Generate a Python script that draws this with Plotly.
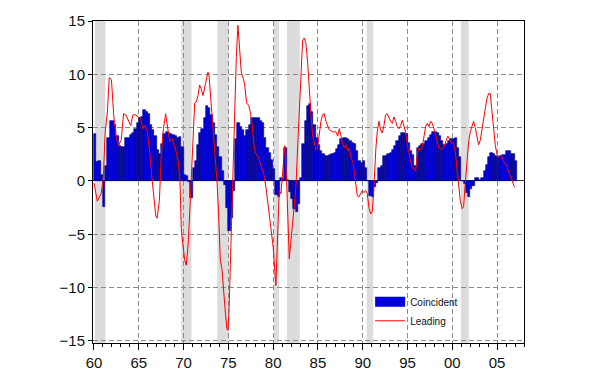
import plotly.graph_objects as go

# ---------------- data ----------------
start_year = 1960
# Coincident index growth (%), quarterly from 1960Q1 to 2007Q1
coincident = [
    4.4, 1.8, 1.9, 0.6,      # 1960
    -2.4, 1.4, 4.0, 5.6,     # 1961
    5.6, 5.2, 4.2, 3.3,      # 1962
    3.2, 3.2, 4.0, 4.0,      # 1963
    4.3, 4.5, 4.9, 5.4,      # 1964
    5.9, 6.0, 6.7, 6.5,      # 1965
    6.3, 5.2, 4.8, 4.2,      # 1966
    2.9, 2.5, 3.5, 4.4,      # 1967
    4.6, 4.5, 4.4, 4.3,      # 1968
    4.2, 4.0, 4.1, 3.2,      # 1969
    0.6, 0.5, -0.1, -1.6,    # 1970
    1.2, 1.85, 3.4, 4.5,     # 1971
    4.9, 5.9, 7.0, 6.8,      # 1972
    6.2, 5.4, 4.3, 3.2,      # 1973
    2.2, 0.9, -0.4, -2.5,    # 1974
    -4.7, -3.5, -0.9, 3.9,   # 1975
    5.4, 5.1, 4.8, 4.2,      # 1976
    4.8, 5.2, 5.9, 5.9,      # 1977
    5.9, 5.9, 5.6, 5.4,      # 1978
    4.0, 3.1, 2.6, 2.0,      # 1979
    1.1, -1.3, -1.5, 0.3,    # 1980
    0.2, 3.1, 0.1, -1.0,     # 1981
    -1.7, -2.6, -2.9, -2.2,  # 1982
    0.3, 3.5, 5.6, 7.0,      # 1983
    7.2, 6.5, 5.2, 4.0,      # 1984
    3.4, 2.8, 2.5, 2.3,      # 1985
    2.3, 2.4, 2.5, 2.6,      # 1986
    3.0, 3.4, 3.9, 4.0,      # 1987
    4.0, 3.9, 3.7, 3.6,      # 1988
    3.5, 2.8, 1.85, 1.7,     # 1989
    1.85, 1.2, 0.0, -1.4,    # 1990
    -1.5, -0.6, -0.2, 1.2,   # 1991
    1.4, 2.3, 2.3, 2.5,      # 1992
    2.6, 2.9, 3.3, 3.7,      # 1993
    4.2, 4.5, 4.5, 4.4,      # 1994
    3.6, 2.8, 2.4, 1.4,      # 1995
    3.1, 3.3, 3.5, 3.5,      # 1996
    3.7, 4.0, 4.3, 4.6,      # 1997
    4.6, 4.5, 4.2, 3.7,      # 1998
    3.4, 3.5, 3.7, 3.9,      # 1999
    3.9, 4.0, 3.1, 2.2,      # 2000
    0.0, -0.3, -1.1, -1.5,   # 2001
    -0.8, -0.5, 0.25, 0.25,  # 2002
    0.1, 0.3, 0.9, 1.5,      # 2003
    2.2, 2.6, 2.5, 2.3,      # 2004
    2.2, 2.3, 2.4, 2.4,      # 2005
    2.8, 2.8, 2.5, 2.5,      # 2006
    1.85,                    # 2007
]

# Leading index growth (%), read at the dates below (decimal years)
lead_t = [
    1960.0, 1960.37, 1960.6, 1960.8, 1961.04, 1961.25, 1961.5, 1961.7, 1961.95,
    1962.2, 1962.5, 1962.75, 1963.05, 1963.3, 1963.55, 1963.85, 1964.1, 1964.35,
    1964.65, 1964.95, 1965.2, 1965.45, 1965.7, 1965.95, 1966.25, 1966.5, 1966.7,
    1966.9, 1967.05, 1967.3, 1967.5, 1967.75, 1968.0, 1968.2, 1968.45, 1968.7,
    1968.95, 1969.15, 1969.4, 1969.6, 1969.75, 1969.93, 1970.12, 1970.3, 1970.49,
    1970.68, 1970.86, 1971.05, 1971.24, 1971.42, 1971.61, 1971.79, 1971.98,
    1972.17, 1972.35, 1972.54, 1972.72, 1972.84, 1973.02, 1973.17, 1973.36,
    1973.54, 1973.73, 1973.91, 1974.1, 1974.29, 1974.47, 1974.66, 1974.84,
    1974.96, 1975.07, 1975.22, 1975.33, 1975.51, 1975.7, 1975.89, 1976.07,
    1976.26, 1976.44, 1976.67, 1976.82, 1977.04, 1977.26, 1977.45, 1977.67,
    1977.86, 1978.04, 1978.3, 1978.49, 1978.75, 1978.97, 1979.2, 1979.5, 1979.8,
    1980.0, 1980.3, 1980.5, 1980.68, 1980.87, 1981.06, 1981.3, 1981.5, 1981.65,
    1981.8, 1981.99, 1982.17, 1982.36, 1982.54, 1982.73, 1982.92, 1983.1,
    1983.29, 1983.47, 1983.66, 1983.85, 1984.03, 1984.22, 1984.4, 1984.59,
    1984.78, 1984.96, 1985.15, 1985.33, 1985.52, 1985.71, 1985.89, 1986.08,
    1986.26, 1986.64, 1987.01, 1987.2, 1987.38, 1987.57, 1987.75, 1987.94,
    1988.13, 1988.31, 1988.5, 1988.68, 1988.87, 1989.05, 1989.24, 1989.39,
    1989.58, 1989.76, 1989.95, 1990.13, 1990.32, 1990.51, 1990.69, 1990.88,
    1991.06, 1991.18, 1991.32, 1991.47, 1991.62, 1991.81, 1991.99, 1992.18,
    1992.37, 1992.55, 1992.74, 1992.92, 1993.11, 1993.3, 1993.48, 1993.67,
    1993.85, 1994.04, 1994.23, 1994.41, 1994.6, 1994.78, 1994.97, 1995.16,
    1995.34, 1995.53, 1995.71, 1995.9, 1996.09, 1996.27, 1996.46, 1996.65,
    1996.83, 1997.02, 1997.2, 1997.39, 1997.57, 1997.76, 1997.95, 1998.13,
    1998.32, 1998.5, 1998.69, 1998.88, 1999.06, 1999.3, 1999.5, 1999.7, 1999.9,
    2000.1, 2000.33, 2000.51, 2000.7, 2000.89, 2001.1, 2001.26, 2001.44,
    2001.63, 2001.82, 2002.0, 2002.19, 2002.37, 2002.56, 2002.75, 2002.93,
    2003.12, 2003.3, 2003.49, 2003.68, 2003.86, 2004.05, 2004.23, 2004.42,
    2004.61, 2004.79, 2004.98, 2005.16, 2005.35, 2005.54, 2005.72, 2005.91,
    2006.09, 2006.28, 2006.47, 2006.65, 2006.95,
]
lead_v = [
    -0.2, -1.9, -1.5, -1.2, 0.2, 4.6, 6.5, 9.7, 9.5,
    6.2, 4.0, 3.3, 3.9, 6.3, 6.2, 5.6, 5.2, 6.2,
    6.2, 6.0, 5.9, 4.9, 5.2, 4.6, 2.5, 0.0, -1.85,
    -3.3, -3.5, -1.85, 2.2, 4.9, 6.3, 4.9, 3.7, 4.0,
    3.4, 2.8, 1.85, 0.0, -4.6, -6.2, -7.4, -7.9, -6.2,
    -3.1, 0.0, 3.7, 7.3, 7.4, 8.0, 9.0, 8.6,
    8.0, 8.8, 9.6, 10.2, 9.9, 8.0, 6.2, 4.3,
    2.2, 0.0, -3.1, -7.4, -8.3, -10.8, -12.3, -13.9,
    -14.0, -12.3, -8.0, -3.7, 0.0, 6.8, 11.7, 14.6,
    12.0, 10.2, 9.6, 9.0, 7.3, 7.1, 6.5, 5.2,
    3.3, 2.6, 2.3, 1.85, 1.2, 0.6, -0.6, -2.6, -4.8,
    -6.2, -9.8, -4.3, -0.9, -1.2, 0.6, 3.3, 0.0, -4.6,
    -7.3, -5.6, -3.7, -2.2, -0.6, 3.1, 7.1, 10.8,
    13.2, 13.4, 12.9, 11.1, 8.3, 6.2, 4.3, 3.4,
    2.9, 3.1, 4.6, 5.6, 6.2, 6.3, 5.6, 5.2,
    4.8, 4.6, 4.6, 4.2, 4.9, 4.2, 3.5, 3.1,
    3.4, 2.8, 3.1, 2.2, 1.85, 0.9, -0.4, -1.4,
    -1.5, -1.2, -0.9, -1.1, -0.9, -1.2, -2.5, -3.1,
    -2.9, -1.5, 0.9, 3.1, 4.6, 5.6, 4.8, 4.5,
    5.2, 6.2, 6.3, 5.9, 5.6, 5.4, 6.0, 5.6,
    5.1, 4.9, 5.2, 5.7, 5.2, 4.6, 3.4, 2.5,
    1.85, 1.2, 1.2, 0.9, 2.5, 3.1, 2.9, 3.2,
    4.0, 5.1, 5.4, 5.1, 5.6, 5.4, 4.9, 4.3,
    3.6, 3.1, 3.0, 3.0, 3.2, 3.7, 4.2, 3.9, 3.5,
    3.6, 2.8, 1.2, -0.3, -1.85, -2.6, -2.4, -0.3,
    1.5, 3.7, 4.6, 5.2, 5.6, 5.0, 4.0, 3.4,
    3.8, 4.9, 5.9, 6.8, 7.7, 8.2, 8.2, 6.5,
    4.6, 3.4, 2.5, 2.2, 2.4, 2.3, 1.85, 1.6,
    1.4, 0.9, 0.5, 0.0, -0.6,
]

# Recession periods (decimal years)
rec_start = [1960.1, 1969.75, 1973.76, 1980.08, 1981.54, 1990.45, 2000.95]
rec_end = [1961.28, 1970.88, 1975.05, 1980.65, 1982.98, 1991.17, 2001.83]

tick_years = [1960, 1965, 1970, 1975, 1980, 1985, 1990, 1995, 2000, 2005]
tick_labels = ["60", "65", "70", "75", "80", "85", "90", "95", "00", "05"]
y_ticks = [-15, -10, -5, 0, 5, 10, 15]

# ---------------- figure ----------------
bar_x = [start_year + 0.25 * i + 0.125 for i in range(len(coincident))]
bar_fill = "#0000DD"
bar_edge = "#00007A"

fig = go.Figure()
fig.add_trace(go.Bar(
    x=bar_x, y=coincident, width=0.25, name="Coincident", showlegend=False,
    marker=dict(color=bar_fill, line=dict(color=bar_edge, width=0.6)),
))
# legend proxy giving a wide rectangle key like the original
fig.add_trace(go.Scatter(
    x=[None], y=[None], mode="lines", name="Coincident",
    line=dict(color=bar_fill, width=10),
))
fig.add_trace(go.Scatter(
    x=lead_t, y=lead_v, mode="lines", name="Leading",
    line=dict(color="#FF0000", width=1),
))

for s, e in zip(rec_start, rec_end):
    fig.add_shape(type="rect", xref="x", yref="paper", x0=s, x1=e, y0=0, y1=1,
                  fillcolor="#DCDCDC", line=dict(width=0), layer="below")

font_family = "Liberation Sans, Arial, sans-serif"
fig.update_layout(
    width=600, height=372,
    margin=dict(l=93, r=76, t=21, b=29, autoexpand=False),
    paper_bgcolor="white", plot_bgcolor="white",
    bargap=0,
    font=dict(family=font_family, size=15, color="#111111"),
    showlegend=True,
    legend=dict(x=0.643, y=0.173, xanchor="left", yanchor="top",
                bgcolor="rgba(0,0,0,0)", borderwidth=0,
                font=dict(size=10, color="#111111"),
                tracegroupgap=0, itemwidth=30),
)
fig.update_xaxes(
    range=[1959.89, 2008.0], automargin=False,
    tickmode="array", tickvals=tick_years, ticktext=tick_labels,
    ticks="outside", ticklen=6, tickcolor="#000000", tickwidth=1,
    minor=dict(dtick=1, tick0=1960, ticks="outside", ticklen=3,
               tickcolor="#000000", showgrid=False),
    showgrid=True, gridcolor="#8C8C8C", griddash="5px,3px", gridwidth=1,
    showline=True, linecolor="#000000", linewidth=1, mirror=True,
    zeroline=False,
)
fig.update_yaxes(
    range=[-15.2, 15.0], automargin=False,
    tickmode="array", tickvals=y_ticks,
    ticks="outside", ticklen=4, tickcolor="#000000",
    showgrid=True, gridcolor="#8C8C8C", griddash="5px,3px", gridwidth=1,
    showline=True, linecolor="#000000", linewidth=1, mirror=True,
    zeroline=True, zerolinecolor="#333333", zerolinewidth=1,
)

fig.write_html(
    "out.html",
    config={"displayModeBar": False},
    post_script="document.body.style.margin='0';document.body.style.overflow='hidden';",
)
